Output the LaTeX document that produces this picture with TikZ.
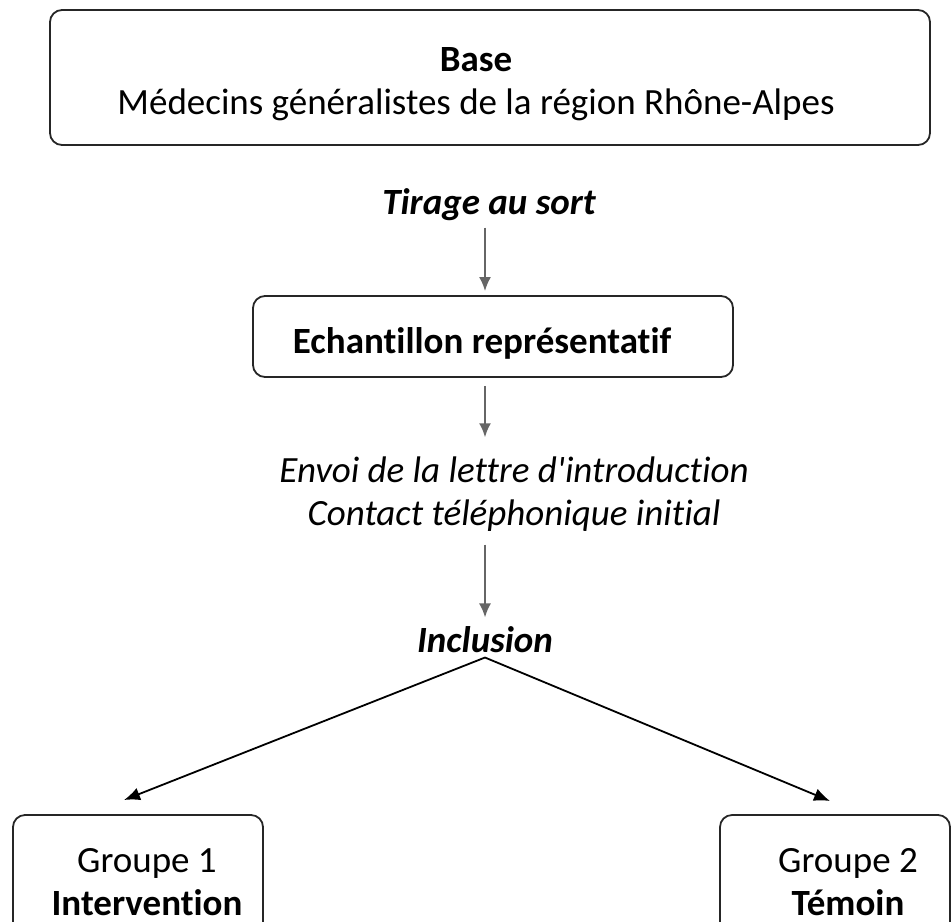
\documentclass[tikz,border=0pt]{standalone}
\usepackage{fontspec}
\setmainfont{Carlito}[Ligatures={TeX,NoCommon}]
\usetikzlibrary{arrows.meta,positioning}

\tikzset{
  box/.style={draw=black!85, rounded corners=6pt, line width=0.9pt, align=center, inner sep=0pt},
  lbl/.style={align=center, inner sep=1pt},
  flow/.style={-{Latex[length=7pt,width=6pt]}, line width=1pt, black!60},
  split/.style={{Latex[length=8pt,width=6.5pt]}-{Latex[length=8pt,width=6.5pt]}, line width=0.9pt},
}

\begin{document}
\begin{tikzpicture}[x=0.5pt,y=-0.5pt,font=\fontsize{18.5}{21.5}\selectfont]
\useasboundingbox (0,0) rectangle (951,921);
% boxes
\node [box, minimum width=440pt, minimum height=67.5pt] (base) at (490,77.5) {};
\node [lbl] (basetxt) at (476,84) {\textbf{Base}\\M\'edecins g\'en\'eralistes de la r\'egion Rh\^one-Alpes};
\node [box, minimum width=240pt, minimum height=40.5pt] (echant) at (493,336.5) {};
\node [lbl, font=\fontsize{18.5}{21.5}\selectfont\bfseries] (echtxt) at (482,343) {Echantillon repr\'esentatif};
\node [box, minimum width=125pt, minimum height=67pt] (g1) at (138,882) {};
\node [lbl] (g1txt) at (147,882) {Groupe 1\\\textbf{Intervention}};
\node [box, minimum width=115pt, minimum height=67pt] (g2) at (835,882) {};
\node [lbl] (g2txt) at (848,882) {Groupe 2\\\textbf{T\'emoin}};
% labels
\node [lbl, font=\fontsize{18.5}{21.5}\selectfont\bfseries\itshape] (tirage) at (489,205) {Tirage au sort};
\node [lbl, font=\fontsize{18.5}{21.5}\selectfont\itshape] (envoi) at (514,494) {Envoi de la lettre d\textquotesingle introduction\\Contact t\'el\'ephonique initial};
\node [lbl, font=\fontsize{18.5}{21.5}\selectfont\bfseries\itshape] (incl) at (485,640) {Inclusion};
\coordinate (t1) at (124,800);
\coordinate (t2) at (830,801);
% arrows
\draw [flow] ([yshift=-2pt]incl.south |- tirage.south) -- ([yshift=2pt]incl.south |- echant.north);
\draw [flow] ([yshift=-4pt]incl.south |- echant.south) -- ([yshift=8.5pt]incl.south |- envoi.north);
\draw [flow] ([yshift=-5.5pt]incl.south |- envoi.south) -- ([yshift=3.5pt]incl.north);
\draw [split] (t1) -- ([yshift=-1pt]incl.south) -- (t2);
\end{tikzpicture}
\end{document}
